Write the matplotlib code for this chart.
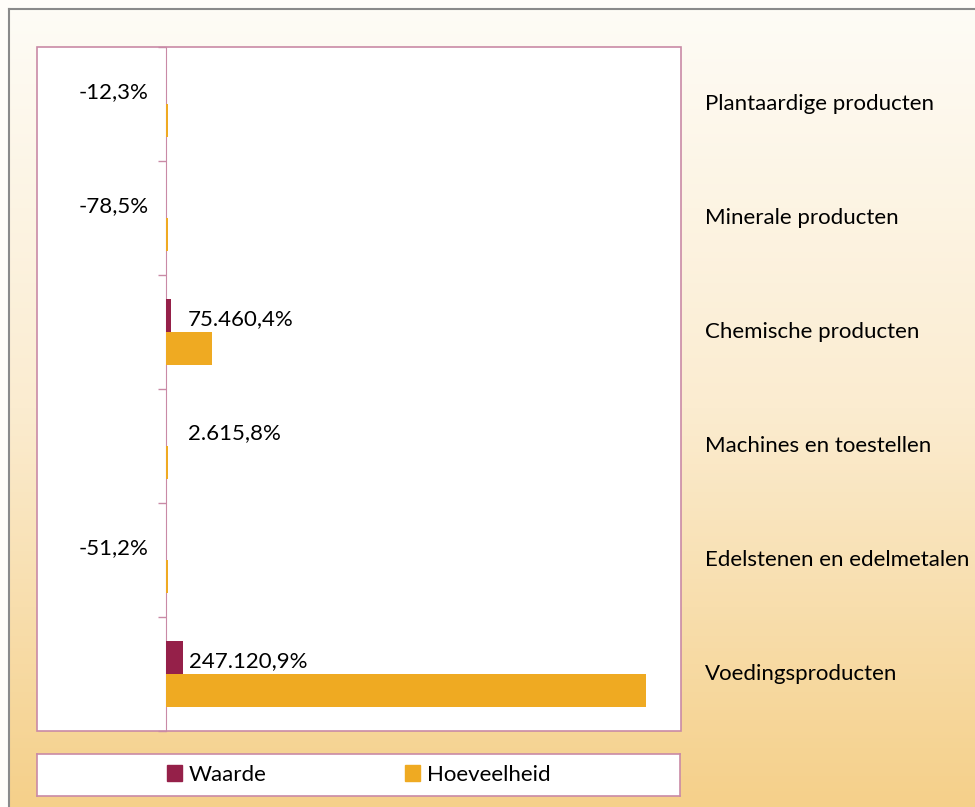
import numpy as np
import matplotlib
matplotlib.use("Agg")
import matplotlib.pyplot as plt
from matplotlib.patches import Patch, Rectangle
from matplotlib.colors import LinearSegmentedColormap

plt.rcParams['font.family'] = ['Lato', 'DejaVu Sans']

categorieen = ["Plantaardige producten", "Minerale producten", "Chemische producten",
               "Machines en toestellen", "Edelstenen en edelmetalen", "Voedingsproducten"]
waarde = [0.0, 0.0, 5.0, 0.4, 0.0, 16.5]
hoeveelheid = [1.6, 1.6, 46.0, 1.6, 1.6, 480.0]
labels = ["-12,3%", "-78,5%", "75.460,4%", "2.615,8%", "-51,2%", "247.120,9%"]
teken = [-1, -1, 1, 1, -1, 1]

c_waarde = "#952049"
c_hoev = "#efaa22"
c_rand = "#c98aa6"
fs = 16

W, H = 975, 807
fig = plt.figure(figsize=(W / 100, H / 100), dpi=100)
fig.patch.set_facecolor("#fffdf9")

# achtergrond met verloop
bg = fig.add_axes([9 / W, 0, 1 - 9 / W, 1 - 9 / H])
cmap = LinearSegmentedColormap.from_list("bg", ["#fefcf6", "#fbecd0", "#f5d08a"])
grad = np.linspace(0, 1, 256).reshape(-1, 1)
bg.imshow(grad, aspect="auto", cmap=cmap, extent=[0, 1, 0, 1], origin="upper")
bg.set_xticks([])
bg.set_yticks([])
for s in ["right", "bottom"]:
    bg.spines[s].set_visible(False)
for s in ["left", "top"]:
    bg.spines[s].set_color("#8a8a8a")
    bg.spines[s].set_linewidth(1.5)

# grafiek
ax = fig.add_axes([37 / W, 1 - 731 / H, 644 / W, 684 / H])
ax.set_facecolor("white")
y = np.arange(len(categorieen))
h = 0.29
ax.barh(y - h / 2, waarde, height=h, color=c_waarde, zorder=3)
ax.barh(y + h / 2, hoeveelheid, height=h, color=c_hoev, zorder=3)
ax.set_xlim(-129, 515)
ax.set_ylim(len(categorieen) - 0.5, -0.5)

for s in ["top", "right", "bottom"]:
    ax.spines[s].set_visible(False)
ax.spines["left"].set_position(("data", 0))
ax.spines["left"].set_color(c_rand)
ax.spines["left"].set_zorder(2)
ax.add_patch(Rectangle((0, 0), 1, 1, transform=ax.transAxes, fill=False,
                       edgecolor=c_rand, linewidth=1.2, clip_on=False, zorder=5))
ax.set_xticks([])
ax.set_yticks(np.arange(-0.5, len(categorieen), 1.0))
ax.set_yticklabels([])
ax.tick_params(axis="y", direction="out", length=6, color=c_rand, width=1)

for i, (v, lab, t) in enumerate(zip(waarde, labels, teken)):
    if t > 0:
        ax.text(max(v, 16) + 6, i - h / 2 + 0.03, lab, ha="left", va="center",
                fontsize=fs, color="black", zorder=6)
    else:
        ax.text(-17, i - h / 2 + 0.04, lab, ha="right", va="center",
                fontsize=fs, color="black", zorder=6)

for i, cat in enumerate(categorieen):
    ax.text((705 - 37) / 644, i, cat, transform=ax.get_yaxis_transform(),
            ha="left", va="center", fontsize=fs, color="black", clip_on=False)

# legenda
lax = fig.add_axes([37 / W, 1 - 796 / H, 643 / W, 42 / H])
lax.set_facecolor("white")
lax.set_xticks([])
lax.set_yticks([])
for s in lax.spines.values():
    s.set_color(c_rand)
    s.set_linewidth(1.2)
handles = [Patch(color=c_waarde, label="Waarde"), Patch(color=c_hoev, label="Hoeveelheid")]
lax.legend(handles=handles, loc="center", ncol=2, frameon=False, fontsize=fs,
           handlelength=0.7, handleheight=0.7, handletextpad=0.3, columnspacing=6.2)

fig.savefig("out.png", dpi=100)
